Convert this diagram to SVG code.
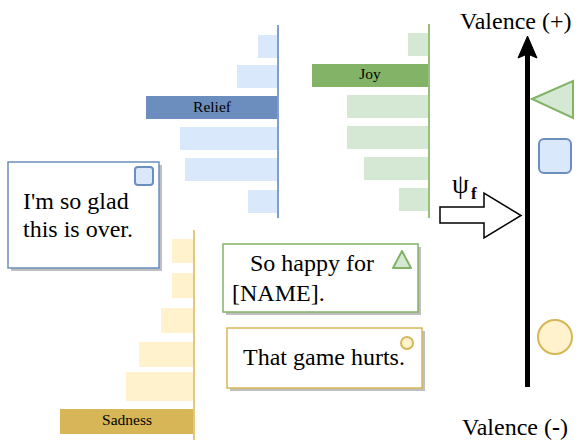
<svg xmlns="http://www.w3.org/2000/svg" width="586" height="443" viewBox="0 0 586 443">
<style>
text{font-family:"Liberation Serif","Times New Roman",serif;fill:#000}
.big{font-size:24px}
.lbl{font-size:15.5px;text-anchor:middle}
.rl{fill:#dae8fc}
.rd{fill:#6c8ebf}
.jl{fill:#d5e8d4}
.jd{fill:#82b366}
.sl{fill:#fff2cc}
.sd{fill:#d6b656}
.shadow{fill:#000;opacity:0.25}
.box{fill:#fff;stroke-width:1.5}
</style>
<rect width="586" height="443" fill="#fff"/>
<g id="relief-chart">
<rect class="rl" x="258" y="35" width="19" height="23"/>
<rect class="rl" x="237" y="65" width="40" height="23"/>
<rect class="rd" x="146" y="96" width="131" height="23"/>
<rect class="rl" x="180" y="127" width="97" height="23"/>
<rect class="rl" x="185" y="158" width="92" height="23"/>
<rect class="rl" x="248" y="190" width="29" height="23"/>
<line x1="278" y1="25" x2="278" y2="218" stroke="#7f9fcf" stroke-width="2"/>
<text class="lbl" x="212" y="112">Relief</text>
</g>
<g id="joy-chart">
<rect class="jl" x="408" y="33" width="20" height="23"/>
<rect class="jd" x="312" y="64" width="116" height="23"/>
<rect class="jl" x="347" y="95" width="81" height="23"/>
<rect class="jl" x="347" y="126" width="81" height="23"/>
<rect class="jl" x="364" y="157" width="64" height="23"/>
<rect class="jl" x="399" y="188" width="29" height="23"/>
<line x1="429" y1="24" x2="429" y2="218" stroke="#97c07e" stroke-width="2"/>
<text class="lbl" x="370" y="79">Joy</text>
</g>
<g id="sadness-chart">
<rect class="sl" x="172" y="239" width="21" height="24"/>
<rect class="sl" x="172" y="273" width="21" height="25"/>
<rect class="sl" x="161" y="308" width="32" height="25"/>
<rect class="sl" x="139" y="342" width="54" height="25"/>
<rect class="sl" x="126" y="372" width="67" height="29"/>
<rect class="sd" x="60" y="409" width="134" height="25"/>
<line x1="194" y1="230" x2="194" y2="440" stroke="#e2c97e" stroke-width="2"/>
<text class="lbl" x="127" y="425">Sadness</text>
</g>
<g id="box-relief">
<rect class="shadow" x="11" y="165" width="151" height="106"/>
<rect class="box" x="8" y="162" width="151" height="106" stroke="#6c8ebf"/>
<rect x="135" y="167" width="18" height="18" rx="3" fill="#dae8fc" stroke="#6c8ebf" stroke-width="2"/>
<text class="big" x="23" y="209">I'm so glad</text>
<text class="big" x="23" y="237">this is over.</text>
</g>
<g id="box-joy">
<rect class="shadow" x="226" y="247" width="195" height="68"/>
<rect class="box" x="223" y="244" width="195" height="68" stroke="#82b366"/>
<polygon points="402,251 393,268 411,268" fill="#d5e8d4" stroke="#82b366" stroke-width="2" stroke-linejoin="round"/>
<text class="big" x="250" y="271">So happy for</text>
<text class="big" x="232" y="301">[NAME].</text>
</g>
<g id="box-sadness">
<rect class="shadow" x="230" y="331" width="195" height="60"/>
<rect class="box" x="227" y="328" width="195" height="60" stroke="#d6b656"/>
<circle cx="407" cy="343" r="6" fill="#fff2cc" stroke="#d6b656" stroke-width="2"/>
<text class="big" x="243" y="365">That game hurts.</text>
</g>
<g id="connectors">
<polygon points="440,207 484,207 484,193 521,215.5 484,238 484,223 440,223" fill="#fff" stroke="#000" stroke-width="1.5"/>
<line x1="527.5" y1="387" x2="527.5" y2="54" stroke="#000" stroke-width="5"/>
<polygon points="527.5,36 537,58 527.5,54 518,58" fill="#000" stroke="#000" stroke-width="1"/>
</g>
<g id="psi-label">
<text x="452" y="193" font-size="27">ψ</text>
<text x="471" y="199" font-size="17" font-weight="bold">f</text>
</g>
<g id="valence-plus">
<text class="big" x="460" y="29">Valence (+)</text>
</g>
<g id="valence-minus">
<text class="big" x="462" y="435">Valence (<tspan font-weight="bold">-</tspan>)</text>
</g>
<g id="marker-joy">
<polygon points="532,99 573,81 573,118" fill="#d5e8d4" stroke="#82b366" stroke-width="2"/>
</g>
<g id="marker-relief">
<rect x="539" y="139" width="32" height="34" rx="5" fill="#dae8fc" stroke="#6c8ebf" stroke-width="2"/>
</g>
<g id="marker-sadness">
<circle cx="555" cy="337" r="17" fill="#fff2cc" stroke="#d6b656" stroke-width="2"/>
</g>
</svg>
